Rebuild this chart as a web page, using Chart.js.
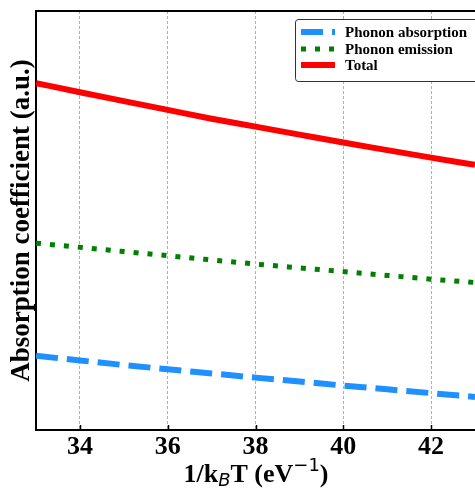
<!DOCTYPE html>
<html>
<head>
<meta charset="utf-8">
<script src="https://cdn.jsdelivr.net/npm/chart.js@4/dist/chart.umd.min.js"></script>
<style>
  html, body { margin: 0; padding: 0; background: #fff; }
  #wrap { width: 475px; height: 491px; }
</style>
</head>
<body>
<div id="wrap"><canvas id="myChart" width="475" height="491"></canvas></div>
<script>
// 1/kBT values (eV^-1) and the three curves, in arbitrary units
var invKT = [33, 34, 35, 36, 37, 38, 39, 40, 41, 42, 43];
var absorption = [0.177, 0.166, 0.155, 0.145, 0.135, 0.125, 0.116, 0.106, 0.097, 0.088, 0.079];
var emission = [0.446, 0.436, 0.426, 0.416, 0.406, 0.396, 0.387, 0.378, 0.369, 0.360, 0.352];
var total = [0.828, 0.806, 0.785, 0.764, 0.743, 0.724, 0.705, 0.686, 0.668, 0.650, 0.633];
var xTicks = [34, 36, 38, 40, 42];
var seriesNames = ['Phonon absorption', 'Phonon emission', 'Total'];

function pts(ys) {
    return invKT.map(function (x, i) { return { x: x, y: ys[i] }; });
}

var serif = '"Liberation Serif", "Times New Roman", serif';

// frame, inward ticks, boxed legend and the mathtext-ish x title
var extras = {
    id: 'extras',
    afterDatasetsDraw: function (chart) {
        var ctx = chart.ctx, a = chart.chartArea, xs = chart.scales.x;
        ctx.save();
        // top spine
        ctx.strokeStyle = '#000';
        ctx.lineWidth = 2;
        ctx.beginPath();
        ctx.moveTo(a.left - 1, a.top);
        ctx.lineTo(a.right, a.top);
        ctx.stroke();
        // tick marks pointing in
        ctx.lineWidth = 1.5;
        xTicks.forEach(function (v) {
            var px = Math.round(xs.getPixelForValue(v)) + 0.5;
            ctx.beginPath();
            ctx.moveTo(px, a.bottom);
            ctx.lineTo(px, a.bottom - 5);
            ctx.stroke();
        });

        // legend
        var bx = 295, by = 19, bw = 190, bh = 62, r = 3;
        ctx.fillStyle = '#fff';
        ctx.strokeStyle = '#333';
        ctx.lineWidth = 1;
        ctx.beginPath();
        ctx.moveTo(bx + r, by + 0.5);
        ctx.lineTo(bx + bw, by + 0.5);
        ctx.lineTo(bx + bw, by + bh + 0.5);
        ctx.lineTo(bx + r, by + bh + 0.5);
        ctx.arcTo(bx + 0.5, by + bh + 0.5, bx + 0.5, by + bh - r, r);
        ctx.lineTo(bx + 0.5, by + r);
        ctx.arcTo(bx + 0.5, by + 0.5, bx + r, by + 0.5, r);
        ctx.fill();
        ctx.stroke();
        var rows = [32, 49, 65];
        chart.data.datasets.forEach(function (ds, i) {
            ctx.strokeStyle = ds.borderColor;
            ctx.lineWidth = ds.borderWidth;
            ctx.setLineDash(ds.borderDash || []);
            ctx.lineCap = 'butt';
            ctx.beginPath();
            ctx.moveTo(301, rows[i]);
            ctx.lineTo(335, rows[i]);
            ctx.stroke();
            ctx.setLineDash([]);
            ctx.fillStyle = '#000';
            ctx.font = 'bold 15px ' + serif;
            ctx.textBaseline = 'middle';
            ctx.textAlign = 'left';
            ctx.fillText(ds.label, 345, rows[i] + 1);
        });

        // x title: 1/k_B T (eV^-1)
        var parts = [
            { t: '1/k', f: 'bold 26px ' + serif, dy: 0 },
            { t: 'B', f: 'italic 18px "DejaVu Sans", sans-serif', dy: 4 },
            { t: 'T (eV', f: 'bold 26px ' + serif, dy: 0 },
            { t: '\u22121', f: '18px "DejaVu Sans", sans-serif', dy: -11 },
            { t: ')', f: 'bold 26px ' + serif, dy: 0 }
        ];
        var w = 0;
        parts.forEach(function (p) { ctx.font = p.f; p.w = ctx.measureText(p.t).width; w += p.w; });
        var x = 256 - w / 2, base = 482;
        ctx.textBaseline = 'alphabetic';
        ctx.fillStyle = '#000';
        parts.forEach(function (p) {
            ctx.font = p.f;
            ctx.fillText(p.t, x, base + p.dy);
            x += p.w;
        });
        ctx.restore();
    }
};

var chart = new Chart('myChart', {
    type: 'line',
    data: {
        datasets: [{
            label: seriesNames[0],
            data: pts(absorption),
            borderColor: '#1e90ff',
            borderWidth: 6,
            borderDash: [22, 9],
            borderCapStyle: 'butt',
            pointRadius: 0,
            cubicInterpolationMode: 'monotone'
        }, {
            label: seriesNames[1],
            data: pts(emission),
            borderColor: '#007f00',
            borderWidth: 5,
            borderDash: [5, 9],
            borderCapStyle: 'butt',
            pointRadius: 0,
            cubicInterpolationMode: 'monotone'
        }, {
            label: seriesNames[2],
            data: pts(total),
            borderColor: '#ff0000',
            borderWidth: 6,
            pointRadius: 0,
            cubicInterpolationMode: 'monotone'
        }]
    },
    options: {
        responsive: false,
        animation: false,
        layout: {
            padding: { top: 11, right: 0, left: 0, bottom: 0 }
        },
        plugins: {
            legend: { display: false },
            tooltip: { enabled: false }
        },
        scales: {
            x: {
                type: 'linear',
                min: 33,
                max: 43,
                afterBuildTicks: function (scale) {
                    scale.ticks = xTicks.map(function (v) { return { value: v }; });
                },
                afterFit: function (scale) { scale.height = 61; },
                grid: {
                    color: '#b0b0b0',
                    lineWidth: 1,
                    drawTicks: false
                },
                border: { color: '#000', width: 2, dash: [3, 2] },
                ticks: {
                    color: '#000',
                    padding: 2,
                    maxRotation: 0,
                    font: { family: serif, weight: 'bold', size: 26 }
                }
            },
            y: {
                min: 0,
                max: 1,
                afterFit: function (scale) { scale.width = 36; },
                grid: { display: false, drawTicks: false },
                border: { color: '#000', width: 2 },
                ticks: { display: false },
                title: {
                    display: true,
                    text: 'Absorption coefficient (a.u.)',
                    color: '#000',
                    padding: { top: 6, bottom: 0 },
                    font: { family: serif, weight: 'bold', size: 27 }
                }
            }
        }
    },
    plugins: [extras]
});
</script>
</body>
</html>
